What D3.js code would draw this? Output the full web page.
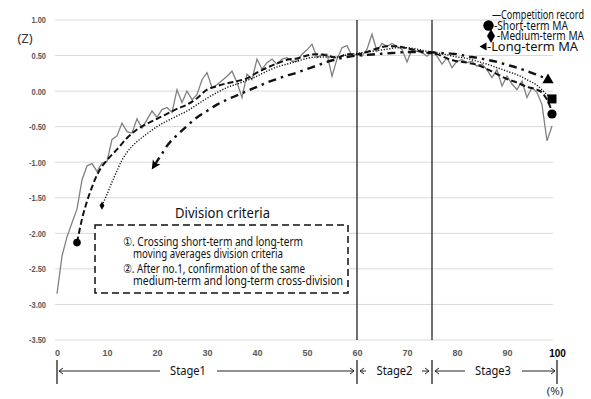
<!DOCTYPE html>
<html>
<head>
<meta charset="utf-8">
<script src="https://cdn.jsdelivr.net/npm/d3@7"></script>
<style>
  html, body { margin: 0; padding: 0; background: #fff; }
  svg { display: block; }
</style>
</head>
<body>
<div id="chart"></div>
<script>
// Competition record (Z), one value per % step 0..99
const recordValues = [
  -2.85, -2.32, -2.05, -1.85, -1.66, -1.25, -1.05, -1.02, -1.13, -1.01,
  -0.99, -0.68, -0.63, -0.45, -0.57, -0.59, -0.39, -0.52, -0.40, -0.28,
  -0.37, -0.26, -0.23, -0.30, 0.02, -0.16, 0.00, -0.12, -0.05, 0.16,
  0.26, 0.05, 0.09, 0.15, 0.21, 0.28, 0.12, -0.09, 0.24, 0.16,
  0.45, 0.31, 0.40, 0.45, 0.38, 0.45, 0.47, 0.42, 0.42, 0.52,
  0.58, 0.66, 0.47, 0.52, 0.52, 0.21, 0.45, 0.61, 0.64, 0.49,
  0.52, 0.49, 0.59, 0.80, 0.56, 0.67, 0.63, 0.67, 0.63, 0.59,
  0.41, 0.59, 0.56, 0.54, 0.49, 0.56, 0.49, 0.38, 0.47, 0.33,
  0.42, 0.44, 0.40, 0.42, 0.35, 0.38, 0.30, 0.19, 0.30, 0.07,
  0.21, 0.10, 0.02, 0.14, -0.09, 0.05, -0.02, -0.19, -0.70, -0.49
];

const shortX = [4, 5, 6, 7, 8, 9, 10, 12, 14, 16, 18, 20, 22, 24, 26, 28, 30, 32, 34, 36, 38, 40, 42, 44, 46, 48, 50, 52, 54, 56, 58, 60, 62, 64, 66, 68, 70, 72, 74, 76, 78, 80, 82, 84, 86, 88, 90, 92, 94, 96, 97, 98, 99];
const shortValues = [-2.13, -1.80, -1.55, -1.35, -1.18, -1.06, -0.97, -0.82, -0.66, -0.54, -0.46, -0.39, -0.32, -0.25, -0.19, -0.10, 0.02, 0.07, 0.11, 0.14, 0.18, 0.26, 0.33, 0.39, 0.44, 0.46, 0.50, 0.52, 0.50, 0.47, 0.52, 0.52, 0.55, 0.60, 0.63, 0.63, 0.60, 0.57, 0.54, 0.52, 0.46, 0.42, 0.40, 0.37, 0.31, 0.24, 0.17, 0.12, 0.06, 0.02, -0.02, -0.12, -0.28];

const mediumX = [9, 10, 11, 12, 13, 14, 16, 18, 20, 22, 24, 26, 28, 30, 32, 34, 36, 38, 40, 42, 44, 46, 48, 50, 52, 54, 56, 58, 60, 62, 64, 66, 68, 70, 72, 74, 76, 78, 80, 82, 84, 86, 88, 90, 92, 94, 96, 97, 98, 99];
const mediumValues = [-1.61, -1.45, -1.28, -1.12, -0.97, -0.86, -0.71, -0.60, -0.50, -0.42, -0.35, -0.28, -0.19, -0.10, -0.02, 0.05, 0.10, 0.15, 0.21, 0.28, 0.34, 0.38, 0.42, 0.46, 0.48, 0.48, 0.48, 0.51, 0.53, 0.55, 0.57, 0.59, 0.61, 0.61, 0.59, 0.56, 0.54, 0.51, 0.48, 0.46, 0.42, 0.38, 0.33, 0.28, 0.23, 0.16, 0.08, 0.02, -0.05, -0.11];

const longX = [19.6, 21, 22, 24, 26, 28, 30, 32, 34, 36, 38, 40, 42, 44, 46, 48, 50, 52, 54, 56, 58, 60, 62, 64, 66, 68, 70, 72, 74, 76, 78, 80, 82, 84, 86, 88, 90, 92, 94, 96, 98];
const longValues = [-1.03, -0.88, -0.77, -0.62, -0.49, -0.37, -0.28, -0.19, -0.12, -0.06, 0.00, 0.06, 0.12, 0.17, 0.22, 0.26, 0.31, 0.36, 0.41, 0.45, 0.48, 0.50, 0.51, 0.52, 0.53, 0.54, 0.55, 0.55, 0.55, 0.54, 0.53, 0.52, 0.49, 0.47, 0.44, 0.41, 0.37, 0.33, 0.28, 0.23, 0.17];

const yTicks = [1, 0.5, 0, -0.5, -1, -1.5, -2, -2.5, -3, -3.5];
const xTicks = [0, 10, 20, 30, 40, 50, 60, 70, 80, 90, 100];
const stageBreaks = [60, 75];
const legendLabels = ['—Competition record', '-Short-term MA', '-Medium-term MA', '-Long-term MA'];
const criteriaLines = [
  '①. Crossing short-term and long-term',
  'moving averages division criteria',
  '②. After no.1, confirmation of the same',
  'medium-term and long-term cross-division'
];
const stageLabels = ['Stage1', 'Stage2', 'Stage3'];

const W = 591, H = 399;
const GRID = '#d9d9d9';
const TICK = '#595959';
const REC = '#808080';
const FONT = '"Noto Sans", "DejaVu Sans", sans-serif';
const NARROW = '"Liberation Sans Narrow", "Arial Narrow", "Liberation Sans", sans-serif';

const svg = d3.select('#chart').append('svg').attr('width', W).attr('height', H);

const x = d3.scaleLinear().domain([0, 100]).range([57, 557]);
const y = d3.scaleLinear().domain([-3.5, 1]).range([340, 20]);

// grid
svg.append('g').selectAll('line')
  .data(yTicks).enter().append('line')
  .attr('x1', 55).attr('x2', 553)
  .attr('y1', d => y(d)).attr('y2', d => y(d))
  .attr('stroke', GRID).attr('stroke-width', 1);

// y axis labels
const yAxis = svg.append('g')
  .attr('transform', 'translate(55,0)')
  .call(d3.axisLeft(y).tickValues(yTicks).tickSize(0).tickPadding(9).tickFormat(d => d.toFixed(2)));
yAxis.select('.domain').remove();
yAxis.selectAll('text')
  .attr('fill', TICK)
  .attr('textLength', d => (d < 0 ? 17 : 14.5))
  .attr('lengthAdjust', 'spacingAndGlyphs')
  .style('font-family', NARROW)
  .style('font-size', '9px')
  .style('font-weight', 'bold');

// x axis labels
const xAxis = svg.append('g')
  .attr('transform', 'translate(0,350)')
  .call(d3.axisBottom(x).tickValues(xTicks).tickSize(0).tickPadding(0).tickFormat(d => String(d)));
xAxis.select('.domain').remove();
xAxis.selectAll('text')
  .attr('fill', d => (d === 100 ? '#000' : TICK))
  .style('font-family', NARROW)
  .style('font-size', d => (d === 100 ? '10px' : '9px'))
  .style('font-weight', 'bold');

svg.append('text')
  .attr('x', 25).attr('y', 38).attr('dy', '0.35em')
  .attr('text-anchor', 'middle')
  .style('font-family', FONT).style('font-size', '13px')
  .attr('fill', '#333')
  .text('(Z)');

// stage boundaries
svg.append('g').selectAll('line')
  .data(stageBreaks).enter().append('line')
  .attr('x1', d => x(d)).attr('x2', d => x(d))
  .attr('y1', y(1)).attr('y2', y(-3.5))
  .attr('stroke', '#222').attr('stroke-width', 1.3);

// lines
const line = d3.line().curve(d3.curveMonotoneX);

svg.append('path')
  .attr('d', d3.line()(recordValues.map((v, i) => [x(i), y(v)])))
  .attr('fill', 'none').attr('stroke', REC).attr('stroke-width', 1.3);

svg.append('path')
  .attr('d', line(mediumX.map((d, i) => [x(d), y(mediumValues[i])])))
  .attr('fill', 'none').attr('stroke', '#111').attr('stroke-width', 1.4)
  .attr('stroke-dasharray', '1.2,1.6');

svg.append('path')
  .attr('d', line(shortX.map((d, i) => [x(d), y(shortValues[i])])))
  .attr('fill', 'none').attr('stroke', '#111').attr('stroke-width', 2)
  .attr('stroke-dasharray', '6,3');

svg.append('path')
  .attr('d', line(longX.map((d, i) => [x(d), y(longValues[i])])))
  .attr('fill', 'none').attr('stroke', '#111').attr('stroke-width', 2.4)
  .attr('stroke-dasharray', '8,5,2.5,5');

// markers
const last = a => a[a.length - 1];
svg.append('circle').attr('cx', x(shortX[0])).attr('cy', y(shortValues[0])).attr('r', 3.8).attr('fill', '#000');
svg.append('circle').attr('cx', x(last(shortX))).attr('cy', y(last(shortValues)) + 3).attr('r', 4.6).attr('fill', '#000');
svg.append('path')
  .attr('d', d3.symbol(d3.symbolDiamond, 20)())
  .attr('transform', `translate(${x(mediumX[0])},${y(mediumValues[0])})`).attr('fill', '#000');
svg.append('rect')
  .attr('x', x(last(mediumX)) - 4.5).attr('y', y(last(mediumValues)) - 4.5)
  .attr('width', 9).attr('height', 9).attr('fill', '#000');
svg.append('path')
  .attr('d', d3.symbol(d3.symbolTriangle, 55)())
  .attr('transform', `translate(${x(last(longX)) + 1},${y(last(longValues)) + 1})`).attr('fill', '#000');
{
  const p0 = [x(longX[0]), y(longValues[0])];
  const p1 = [x(longX[2]), y(longValues[2])];
  const ang = Math.atan2(p0[1] - p1[1], p0[0] - p1[0]) * 180 / Math.PI + 90;
  svg.append('path')
    .attr('d', 'M0,-6L4.5,3L0,1L-4.5,3Z')
    .attr('transform', `translate(${p0[0]},${p0[1]}) rotate(${ang})`).attr('fill', '#000');
}

// legend
const lg = svg.append('g');
const legY = [15, 25.5, 36, 46.5];
const legX = [492, 494, 497, 487];
const legW = [92, 74, 87, 91];
lg.selectAll('text')
  .data(legendLabels).enter().append('text')
  .attr('x', (d, i) => legX[i]).attr('y', (d, i) => legY[i])
  .attr('dy', '0.35em')
  .attr('textLength', (d, i) => legW[i])
  .attr('lengthAdjust', 'spacingAndGlyphs')
  .style('font-family', FONT).style('font-size', '12px')
  .attr('fill', '#111')
  .text(d => d);
lg.append('circle').attr('cx', 488.5).attr('cy', legY[1]).attr('r', 5.2).attr('fill', '#000');
lg.append('path').attr('d', d3.symbol(d3.symbolDiamond, 55)())
  .attr('transform', `translate(491,${legY[2]})`).attr('fill', '#000');
lg.append('path').attr('d', 'M-4,0L3,-4L3,4Z')
  .attr('transform', `translate(483.5,${legY[3]})`).attr('fill', '#000');

// division criteria
svg.append('text')
  .attr('x', 175).attr('y', 213).attr('dy', '0.35em')
  .attr('textLength', 95).attr('lengthAdjust', 'spacingAndGlyphs')
  .style('font-family', FONT).style('font-size', '13.5px')
  .attr('fill', '#111')
  .text('Division criteria');
svg.append('rect')
  .attr('x', 95).attr('y', 225).attr('width', 253).attr('height', 68)
  .attr('fill', '#fff').attr('stroke', '#111').attr('stroke-width', 1.5)
  .attr('stroke-dasharray', '7,4');
const crX = [123, 133, 123, 133];
const crY = [241.5, 253.5, 268.5, 280.5];
const crW = [180, 150, 182, 210];
svg.append('g').selectAll('text')
  .data(criteriaLines).enter().append('text')
  .attr('x', (d, i) => crX[i]).attr('y', (d, i) => crY[i])
  .attr('dy', '0.35em')
  .attr('textLength', (d, i) => crW[i])
  .attr('lengthAdjust', 'spacingAndGlyphs')
  .style('font-family', FONT).style('font-size', '12.5px')
  .attr('fill', '#111')
  .text(d => d);

// stage row
const sy = 371;
const sg = svg.append('g').attr('stroke', '#222').attr('fill', 'none').attr('stroke-width', 1);
[0, 60, 75, 100].forEach(d => {
  sg.append('line').attr('x1', x(d)).attr('x2', x(d)).attr('y1', 360).attr('y2', 384)
    .attr('stroke-width', 1.3);
});
function arrow(x1, x2) {
  sg.append('line').attr('x1', x1).attr('x2', x2).attr('y1', sy).attr('y2', sy);
  const dir = x2 > x1 ? -1 : 1;
  sg.append('path').attr('d', `M${x2 + dir * 4},${sy - 3}L${x2},${sy}L${x2 + dir * 4},${sy + 3}`);
}
arrow(160, x(0) + 2);
arrow(217, x(60) - 3);
arrow(366, x(60) + 3);
arrow(422, x(75) - 3);
arrow(465, x(75) + 3);
arrow(522, x(100) - 2);
const stageX = [170, 376.5, 475];
svg.append('g').selectAll('text')
  .data(stageLabels).enter().append('text')
  .attr('x', (d, i) => stageX[i]).attr('y', sy).attr('dy', '0.35em')
  .attr('textLength', 36).attr('lengthAdjust', 'spacingAndGlyphs')
  .style('font-family', FONT).style('font-size', '12.5px')
  .attr('fill', '#111')
  .text(d => d);
svg.append('text')
  .attr('x', 555).attr('y', 391).attr('dy', '0.35em')
  .attr('text-anchor', 'middle')
  .style('font-family', FONT).style('font-size', '11.5px')
  .attr('fill', '#333')
  .text('(%)');
</script>
</body>
</html>
